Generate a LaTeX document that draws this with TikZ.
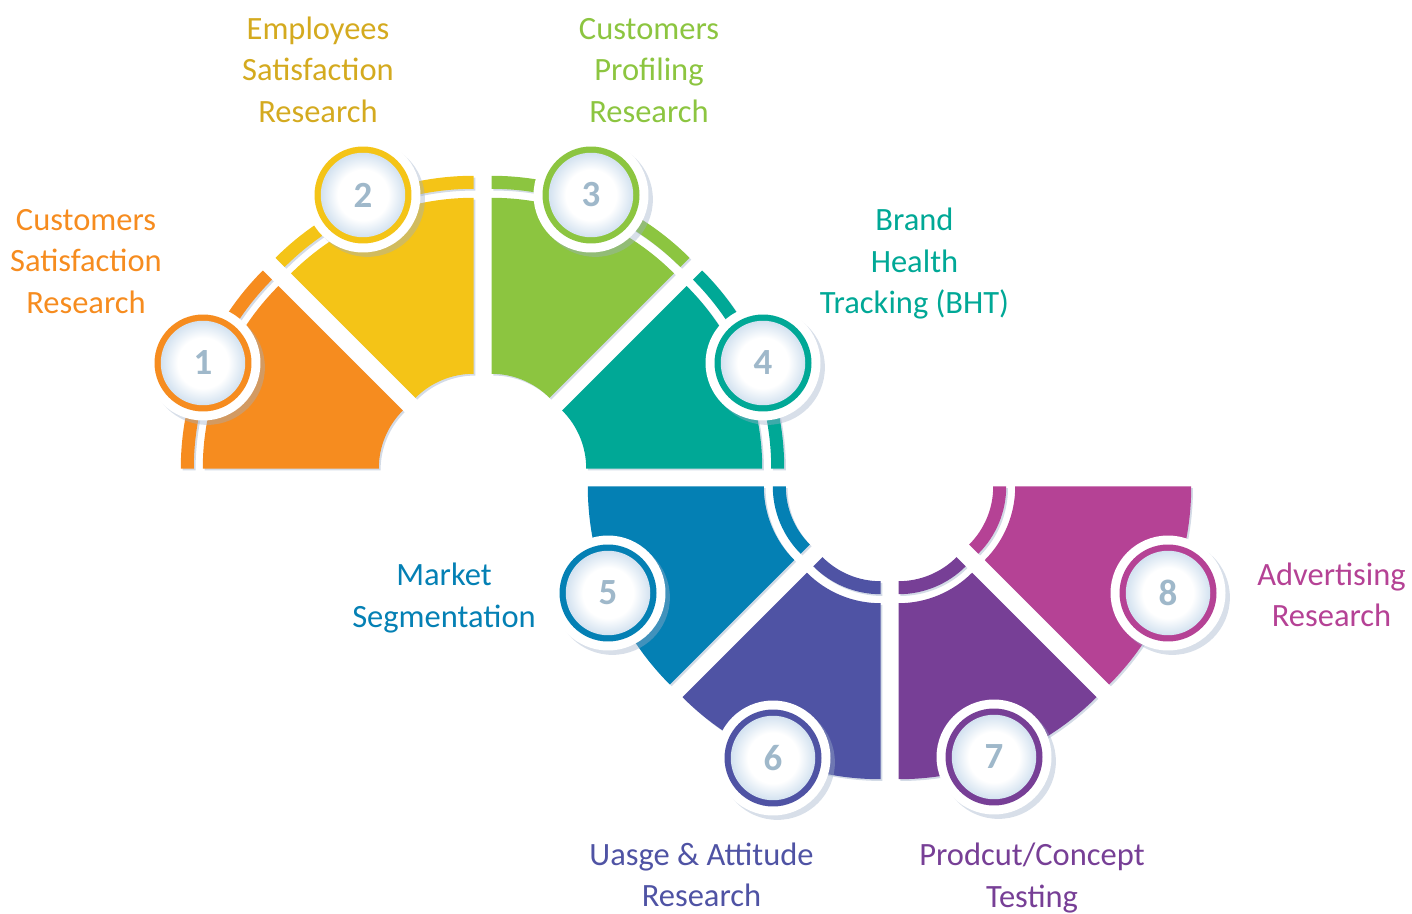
\documentclass[tikz,border=0pt]{standalone}
\usepackage{fontspec}
\setmainfont{Carlito}
\usepackage{tikz}
\usetikzlibrary{shadows}
\definecolor{orangeseg}{HTML}{F68C1F}
\definecolor{yellowseg}{HTML}{F4C417}
\definecolor{goldtext}{HTML}{D4AA1F}
\definecolor{greenseg}{HTML}{8CC540}
\definecolor{tealseg}{HTML}{00A896}
\definecolor{blueseg}{HTML}{0480B4}
\definecolor{indigoseg}{HTML}{4F53A4}
\definecolor{purpleseg}{HTML}{773F96}
\definecolor{magentaseg}{HTML}{B54295}
\definecolor{numgray}{HTML}{9FB8CA}
\definecolor{badgeedge}{HTML}{D3E2F0}
\definecolor{shadowblue}{HTML}{9DAFC8}
\pgfdeclareradialshading{badgefill}{\pgfpoint{0bp}{0bp}}{color(0bp)=(white); color(15bp)=(white); color(25bp)=(badgeedge); color(50bp)=(badgeedge)}

\begin{document}
\begin{tikzpicture}[x=0.02cm,y=0.02cm,
    upseg/.style={shift={(482.5,435.5)},shift={(#1:23.5)}},
    lowseg/.style={shift={(889.5,435.5)},shift={(#1:23.5)}},
    piece/.style={fill=#1,drop shadow={shadow xshift=1pt,shadow yshift=-1pt,fill=shadowblue,opacity=0.45}},
    badge/.style={circle,minimum size=2.3cm,inner sep=0pt,fill=white,
        drop shadow={shadow xshift=2.5pt,shadow yshift=-2.5pt,fill=shadowblue,opacity=0.4},
        text=numgray,font=\fontsize{21}{21}\selectfont\bfseries,
        path picture={\fill[#1] (path picture bounding box.center) circle (0.97cm);
            \shade[shading=badgefill] (path picture bounding box.center) circle (0.845cm);}},
    txt/.style={align=center,inner sep=0pt,text=#1,font=\fontsize{18.5}{23.6}\selectfont}]
    \useasboundingbox (0,0) rectangle (1412,913);
    \fill[piece=orangeseg,upseg=157.5] (180:258) arc[start angle=180,end angle=135,radius=258] -- (135:82) arc[start angle=135,end angle=180,radius=82] -- cycle (180:280) arc[start angle=180,end angle=135,radius=280] -- (135:267) arc[start angle=135,end angle=180,radius=267] -- cycle;
    \fill[piece=yellowseg,upseg=112.5] (135:258) arc[start angle=135,end angle=90,radius=258] -- (90:82) arc[start angle=90,end angle=135,radius=82] -- cycle (135:280) arc[start angle=135,end angle=90,radius=280] -- (90:267) arc[start angle=90,end angle=135,radius=267] -- cycle;
    \fill[piece=greenseg,upseg=67.5] (90:258) arc[start angle=90,end angle=45,radius=258] -- (45:82) arc[start angle=45,end angle=90,radius=82] -- cycle (90:280) arc[start angle=90,end angle=45,radius=280] -- (45:267) arc[start angle=45,end angle=90,radius=267] -- cycle;
    \fill[piece=tealseg,upseg=22.5] (45:258) arc[start angle=45,end angle=0,radius=258] -- (0:82) arc[start angle=0,end angle=45,radius=82] -- cycle (45:280) arc[start angle=45,end angle=0,radius=280] -- (0:267) arc[start angle=0,end angle=45,radius=267] -- cycle;
    \fill[piece=blueseg,lowseg=202.5] (180:104) arc[start angle=180,end angle=225,radius=104] -- (225:280) arc[start angle=225,end angle=180,radius=280] -- cycle (180:82) arc[start angle=180,end angle=225,radius=82] -- (225:95) arc[start angle=225,end angle=180,radius=95] -- cycle;
    \fill[piece=indigoseg,lowseg=247.5] (225:104) arc[start angle=225,end angle=270,radius=104] -- (270:280) arc[start angle=270,end angle=225,radius=280] -- cycle (225:82) arc[start angle=225,end angle=270,radius=82] -- (270:95) arc[start angle=270,end angle=225,radius=95] -- cycle;
    \fill[piece=purpleseg,lowseg=292.5] (270:104) arc[start angle=270,end angle=315,radius=104] -- (315:280) arc[start angle=315,end angle=270,radius=280] -- cycle (270:82) arc[start angle=270,end angle=315,radius=82] -- (315:95) arc[start angle=315,end angle=270,radius=95] -- cycle;
    \fill[piece=magentaseg,lowseg=337.5] (315:104) arc[start angle=315,end angle=360,radius=104] -- (360:280) arc[start angle=360,end angle=315,radius=280] -- cycle (315:82) arc[start angle=315,end angle=360,radius=82] -- (360:95) arc[start angle=360,end angle=315,radius=95] -- cycle;
    \node[badge=orangeseg] (b1) at (203,550) {1};
    \node[badge=yellowseg] (b2) at (363,718) {2};
    \node[badge=greenseg] (b3) at (591,718) {3};
    \node[badge=tealseg] (b4) at (763,550) {4};
    \node[badge=blueseg] (b5) at (608,320) {5};
    \node[badge=indigoseg] (b6) at (773,155) {6};
    \node[badge=purpleseg] (b7) at (994,156) {7};
    \node[badge=magentaseg] (b8) at (1168,320) {8};
    \node[txt=orangeseg] (t1) at (86,651.5) {Customers\\Satisfaction\\Research};
    \node[txt=goldtext] (t2) at (318,843.3) {Employees\\Satisfaction\\Research};
    \node[txt=greenseg] (t3) at (649,842.5) {Customers\\Profiling\\Research};
    \node[txt=tealseg] (t4) at (914.5,649.3) {Brand\\Health\\Tracking (BHT)};
    \node[txt=blueseg] (t5) at (444,315) {Market\\Segmentation};
    \node[txt=indigoseg] (t6) at (701.5,38) {Uasge \& Attitude\\Research};
    \node[txt=purpleseg] (t7) at (1032,35) {Prodcut/Concept\\Testing};
    \node[txt=magentaseg] (t8) at (1331.5,318) {Advertising\\Research};
\end{tikzpicture}
\end{document}
